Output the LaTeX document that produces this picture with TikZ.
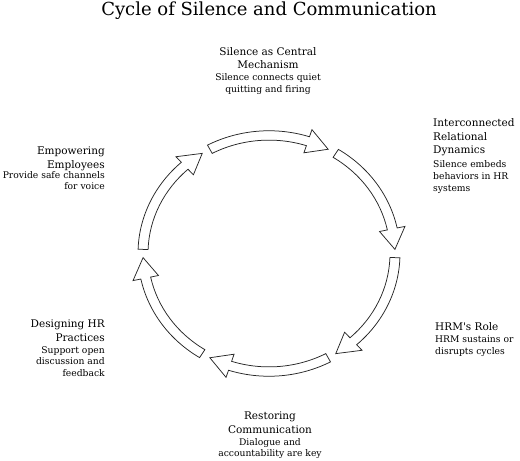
\documentclass[tikz,border=0pt]{standalone}
\usepackage{fontspec}
\setmainfont{DejaVu Serif}
\newfontfamily\titlefont{DejaVu Serif}

\def\cx{269}
\def\cy{253.5}

\begin{document}
\begin{tikzpicture}[x=1pt,y=-1pt,
    stage head/.style={inner sep=0pt,font=\fontsize{10.5}{13.4}\selectfont},
    stage text/.style={inner sep=0pt,font=\fontsize{9.2}{11.6}\selectfont},
    cycle arrow/.style={draw=black!85,fill=white,line width=0.75pt}]
    \useasboundingbox (0,0) rectangle (520,461);
    %%%%% TITLE %%%%%
    \node[font=\titlefont\fontsize{18}{20}\selectfont,anchor=base] (title) at (269,15) {Cycle of Silence and Communication};

    %%%%% ARROWS %%%%%
    \begin{scope}[shift={(\cx,\cy)},yscale=-0.937]
        \foreach \c in {90,30,-30,-90,-150,150}{
            \draw[cycle arrow] ({\c+28}:131) arc[start angle=\c+28,end angle=\c-18,radius=131]
                -- ({\c-18}:139) -- ({\c-28}:126) -- ({\c-18}:113) -- ({\c-18}:121)
                arc[start angle=\c-18,end angle=\c+28,radius=121] -- cycle;
        }
    \end{scope}

    %%%%% STAGES %%%%%
    \node[stage head,anchor=north,align=center] (mechHead) at (268,47) {Silence as Central\\Mechanism};
    \node[stage text,anchor=north,align=center] (mechText) at (268,73.7) {Silence connects quiet\\quitting and firing};

    \node[stage head,anchor=north west,align=left] (relHead) at (433,118.7) {Interconnected\\Relational\\Dynamics};
    \node[stage text,anchor=north west,align=left] (relText) at (433,160.7) {Silence embeds\\behaviors in HR\\systems};

    \node[stage head,anchor=north west,align=left] (roleHead) at (435,322) {HRM\textquotesingle s Role};
    \node[stage text,anchor=north west,align=left] (roleText) at (435,336) {HRM sustains or\\disrupts cycles};

    \node[stage head,anchor=north,align=center] (restHead) at (270,412) {Restoring\\Communication};
    \node[stage text,anchor=north,align=center] (restText) at (270,438) {Dialogue and\\accountability are key};

    \node[stage head,anchor=north east,align=right] (hrHead) at (105,320) {Designing HR\\Practices};
    \node[stage text,anchor=north east,align=right] (hrText) at (105,346) {Support open\\discussion and\\feedback};

    \node[stage head,anchor=north east,align=right] (empHead) at (105,147) {Empowering\\Employees};
    \node[stage text,anchor=north east,align=right] (empText) at (105,171) {Provide safe channels\\for voice};
\end{tikzpicture}
\end{document}
